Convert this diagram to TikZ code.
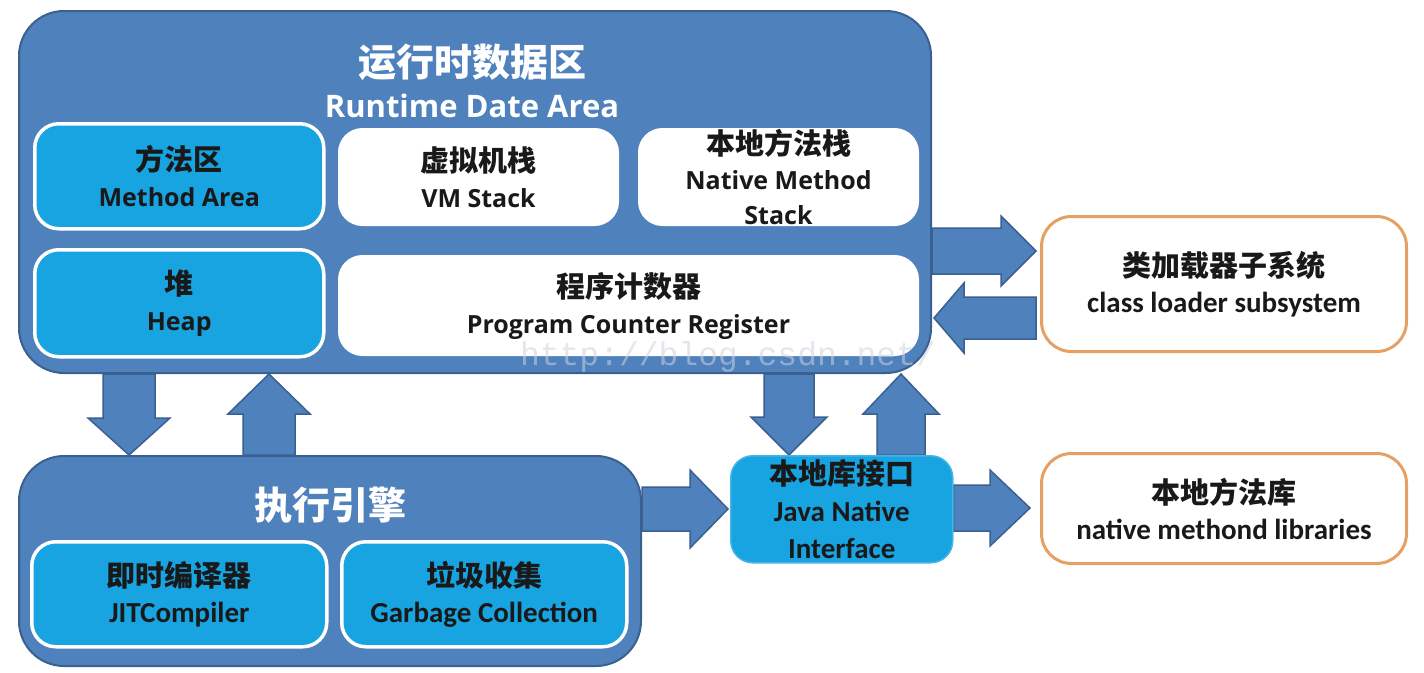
\documentclass[tikz,border=0pt]{standalone}
\usepackage{fontspec}
\setmainfont{Carlito}
\newfontfamily\cjk{Noto Sans CJK SC}
\newfontfamily\tah{Open Sans}
\newfontfamily\wmf{Liberation Mono}
\usetikzlibrary{calc}
\pgfdeclarelayer{bg}
\pgfsetlayers{bg,main}
\definecolor{rdablue}{RGB}{79,129,189}
\definecolor{rdaline}{RGB}{58,96,145}
\definecolor{cyanbox}{RGB}{24,163,225}
\definecolor{orangeline}{RGB}{230,160,100}
\definecolor{txt}{RGB}{25,25,25}
\definecolor{wmcol}{RGB}{205,210,222}
\newcommand\zh[1]{{\cjk\fontsize{29}{36}\selectfont #1}}
\newcommand\ta[1]{{\tah\fontsize{25}{36}\selectfont #1}}
\newcommand\ca[1]{{\fontsize{29}{36}\selectfont #1}}
\tikzset{
  boxbase/.style={anchor=north west, inner sep=0pt, align=center, text=txt,
    font=\fontsize{24}{36}\selectfont\bfseries},
  big/.style={boxbase, fill=rdablue, draw=rdaline, line width=2pt, rounded corners=45pt},
  cyanb/.style={boxbase, fill=cyanbox, draw=white, line width=3.5pt, rounded corners=24pt},
  whiteb/.style={boxbase, fill=white, draw=white, line width=1pt, rounded corners=24pt},
  orangeb/.style={boxbase, fill=white, draw=orangeline, line width=3pt, rounded corners=30pt},
  jnib/.style={boxbase, fill=cyanbox, draw=cyanbox!80!white, line width=1.5pt, rounded corners=22pt},
  titlet/.style={text=white, font=\bfseries},
  barrowsty/.style={fill=rdablue, draw=rdaline, line width=1.5pt, line join=miter},
  wmark/.style={text=wmcol, opacity=0.55, font=\wmf\fontsize{33}{33}\selectfont}
}
% #1 tail, #2 tip, #3 half shaft, #4 half head, #5 head length
\newcommand\blockarr[5]{%
  \draw[barrowsty] ($(#1)!#3!90:(#2)$)
    -- ($($(#2)!#5!(#1)$)!#3!90:(#2)$)
    -- ($($(#2)!#5!(#1)$)!#4!90:(#2)$)
    -- (#2)
    -- ($($(#2)!#5!(#1)$)!#4!-90:(#2)$)
    -- ($($(#2)!#5!(#1)$)!#3!-90:(#2)$)
    -- ($(#1)!#3!-90:(#2)$) -- cycle;}
\begin{document}
\begin{tikzpicture}[x=1pt,y=-1pt]
\useasboundingbox (0,0) rectangle (1424,672);
% runtime data area
\node[big, minimum width=912pt, minimum height=362pt] (rda) at (18,10) {};
\node[titlet, font=\cjk\bfseries\fontsize{38}{38}\selectfont] (rdat1) at (472,62) {运行时数据区};
\node[titlet, font=\tah\bfseries\fontsize{31}{31}\selectfont] (rdat2) at (472,106) {Runtime Date Area};
\node[cyanb, minimum width=289pt, minimum height=105pt] (meth) at (33,122) {\zh{方法区}\\\ta{Method Area}};
\node[whiteb, minimum width=280pt, minimum height=97pt] (vms) at (338,128) {\zh{虚拟机栈}\\\ta{VM Stack}};
\node[whiteb, minimum width=280pt, minimum height=97pt, font=\fontsize{24}{35}\selectfont\bfseries] (nms) at (638,128) {\zh{本地方法栈}\\\ta{Native Method}\\\ta{Stack}};
\node[cyanb, minimum width=289pt, minimum height=107pt] (heap) at (33,248) {\zh{堆}\\\ta{Heap}};
\node[whiteb, minimum width=580pt, minimum height=100pt] (pcr) at (338,255) {\zh{程序计数器}\\\ta{Program Counter Register}};
% execution engine
\node[big, minimum width=622pt, minimum height=210pt] (eng) at (18,455) {};
\node[titlet, font=\cjk\bfseries\fontsize{38}{38}\selectfont] (engt) at (330,505) {执行引擎};
\node[cyanb, minimum width=295pt, minimum height=105pt] (jit) at (30,540) {\zh{即时编译器}\\\ca{JITCompiler}};
\node[cyanb, minimum width=285pt, minimum height=105pt] (gc) at (340,540) {\zh{垃圾收集}\\\ca{Garbage Collection}};
% JNI
\node[jnib, minimum width=222pt, minimum height=107pt, font=\fontsize{24}{37}\selectfont\bfseries] (jni) at (730,455) {\zh{本地库接口}\\\ca{Java Native}\\\ca{Interface}};
% right boxes
\node[orangeb, minimum width=365pt, minimum height=135pt] (cls) at (1040,215) {\zh{类加载器子系统}\\\ca{class loader subsystem}};
\node[orangeb, minimum width=365pt, minimum height=110pt] (nlib) at (1040,452) {\zh{本地方法库}\\\ca{native methond libraries}};
% arrow end points
\coordinate (a1s) at ($(rda.south west)+(111,0)$);
\coordinate (a1t) at ($(eng.north west)+(111,0)$);
\coordinate (a2s) at ($(eng.north west)+(251,0)$);
\coordinate (a2t) at ($(rda.south west)+(251,0)$);
\coordinate (a3s) at ($(eng.north east)+(0,54)$);
\coordinate (a3t) at ($(jni.north west)+(-2,54)$);
\coordinate (a4s) at ($(rda.south west)+(771,0)$);
\coordinate (a4t) at ($(jni.north west)+(59,0)$);
\coordinate (a5s) at ($(jni.north west)+(171,0)$);
\coordinate (a5t) at ($(rda.south west)+(883,0)$);
\coordinate (a6s) at ($(rda.north east)+(0,241)$);
\coordinate (a6t) at ($(cls.north west)+(-4,36)$);
\coordinate (a7s) at ($(cls.north west)+(-4,103)$);
\coordinate (a7t) at ($(rda.north east)+(2,308)$);
\coordinate (a8s) at ($(jni.north east)+(0,53)$);
\coordinate (a8t) at ($(nlib.north west)+(-10,56)$);
\begin{pgfonlayer}{bg}
\blockarr{a1s}{a1t}{26pt}{41pt}{37pt}
\blockarr{a2s}{a2t}{26pt}{41pt}{40pt}
\blockarr{a3s}{a3t}{22pt}{39pt}{38pt}
\blockarr{a4s}{a4t}{25pt}{38pt}{38pt}
\blockarr{a5s}{a5t}{24pt}{38pt}{40pt}
\blockarr{a6s}{a6t}{23pt}{35pt}{35pt}
\blockarr{a7s}{a7t}{21pt}{35pt}{30pt}
\blockarr{a8s}{a8t}{23pt}{38pt}{40pt}
\end{pgfonlayer}
% watermark
\node[wmark] (wmk) at (728,357) {http://blog.csdn.net/};
\end{tikzpicture}
\end{document}
